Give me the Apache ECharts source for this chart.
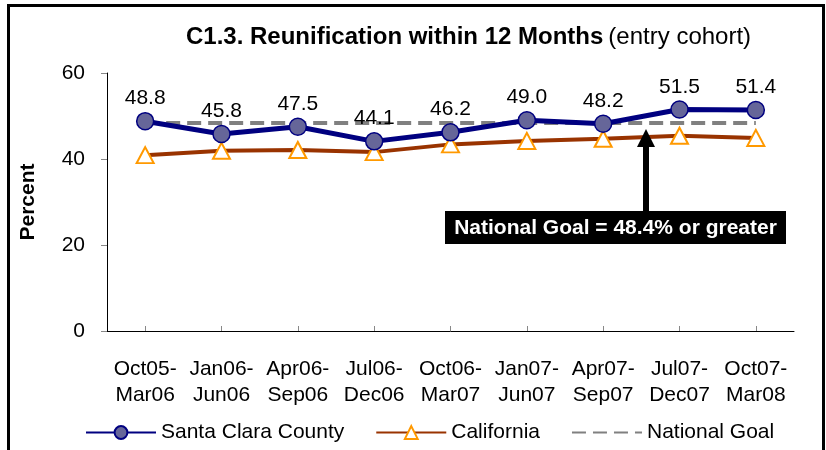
<!DOCTYPE html>
<html>
<head>
<meta charset="utf-8">
<script src="https://cdn.jsdelivr.net/npm/echarts@6/dist/echarts.min.js"></script>
<style>
html,body{margin:0;padding:0;background:#fff;}
#chart{width:826px;height:450px;}
</style>
</head>
<body>
<div id="chart"></div>
<script>
const categories = ['Oct05-\nMar06','Jan06-\nJun06','Apr06-\nSep06','Jul06-\nDec06','Oct06-\nMar07','Jan07-\nJun07','Apr07-\nSep07','Jul07-\nDec07','Oct07-\nMar08'];
const santaClara = [48.8, 45.8, 47.5, 44.1, 46.2, 49.0, 48.2, 51.5, 51.4];
const california = [40.9, 41.9, 42.1, 41.6, 43.4, 44.2, 44.7, 45.4, 44.9];
const nationalGoal = [48.4, 48.4, 48.4, 48.4, 48.4, 48.4, 48.4, 48.4, 48.4];
const yTicks = [0, 20, 40, 60];

const FONT = '"Liberation Sans", Arial, sans-serif';
const chart = echarts.init(document.getElementById('chart'), null, {renderer: 'canvas'});
chart.setOption({
  animation: false,
  backgroundColor: '#fff',
  textStyle: {fontFamily: FONT, color: '#000'},
  title: {
    text: '{b|C1.3. Reunification within 12 Months} {n|(entry cohort)}',
    left: 181, top: 20,
    textStyle: {
      rich: {
        b: {fontFamily: FONT, fontSize: 24, fontWeight: 'bold', color: '#000'},
        n: {fontFamily: FONT, fontSize: 24, fontWeight: 'normal', color: '#000'}
      }
    }
  },
  grid: {left: 107, right: 32, top: 73, bottom: 119, containLabel: false},
  legend: {
    left: 80, top: 417,
    itemWidth: 70, itemHeight: 16, itemGap: 31,
    textStyle: {fontFamily: FONT, fontSize: 21, color: '#000'},
    data: ['Santa Clara County', 'California', {name: 'National Goal', itemStyle: {opacity: 0}}]
  },
  xAxis: {
    type: 'category',
    data: categories,
    boundaryGap: true,
    axisLine: {lineStyle: {color: '#000', width: 1}},
    axisTick: {show: true, inside: true, alignWithLabel: true, length: 5, lineStyle: {color: '#888'}},
    axisLabel: {fontFamily: FONT, fontSize: 21, color: '#000', lineHeight: 26, margin: 25, interval: 0}
  },
  yAxis: {
    type: 'value',
    min: yTicks[0], max: yTicks[yTicks.length - 1], interval: 20,
    name: 'Percent', nameLocation: 'middle', nameGap: 68,
    nameTextStyle: {fontFamily: FONT, fontSize: 21, fontWeight: 'bold', color: '#000'},
    axisLine: {show: true, lineStyle: {color: '#000', width: 1}},
    axisTick: {show: true, inside: false, length: 6, lineStyle: {color: '#888'}},
    axisLabel: {fontFamily: FONT, fontSize: 21, color: '#000', margin: 22},
    splitLine: {show: false}
  },
  series: [
    {
      name: 'National Goal', type: 'line', data: nationalGoal, z: 3,
      symbol: 'none',
      lineStyle: {color: '#808080', width: 4, type: [14, 7]},
      itemStyle: {color: '#808080'}
    },
    {
      name: 'California', type: 'line', data: california, z: 2,
      symbol: 'triangle', symbolSize: [17, 16],
      lineStyle: {color: '#993300', width: 4},
      itemStyle: {color: '#fff', borderColor: '#FF9900', borderWidth: 2}
    },
    {
      name: 'Santa Clara County', type: 'line', data: santaClara, z: 4,
      symbol: 'circle', symbolSize: 17,
      lineStyle: {color: '#000080', width: 5},
      itemStyle: {color: '#666699', borderColor: '#000080', borderWidth: 1.5},
      label: {show: true, position: 'top', distance: 3, fontFamily: FONT, fontSize: 21, color: '#000',
        formatter: p => p.value.toFixed(1)}
    }
  ],
  graphic: [
    {type: 'rect', shape: {x: 8.5, y: 5.5, width: 815, height: 460}, style: {fill: 'none', stroke: '#000', lineWidth: 3}, z: 100, silent: true},
    {type: 'rect', shape: {x: 445, y: 211, width: 341, height: 33}, style: {fill: '#000'}, z: 50},
    {type: 'text', x: 615.5, y: 228, style: {text: 'National Goal = 48.4% or greater', fill: '#fff', font: 'bold 21px ' + FONT, align: 'center', verticalAlign: 'middle'}, z: 51},
    {type: 'rect', shape: {x: 643, y: 145, width: 6, height: 67}, style: {fill: '#000'}, z: 50},
    {type: 'polygon', shape: {points: [[646, 129], [637, 147], [655, 147]]}, style: {fill: '#000'}, z: 50}
  ]
});
</script>
</body>
</html>
